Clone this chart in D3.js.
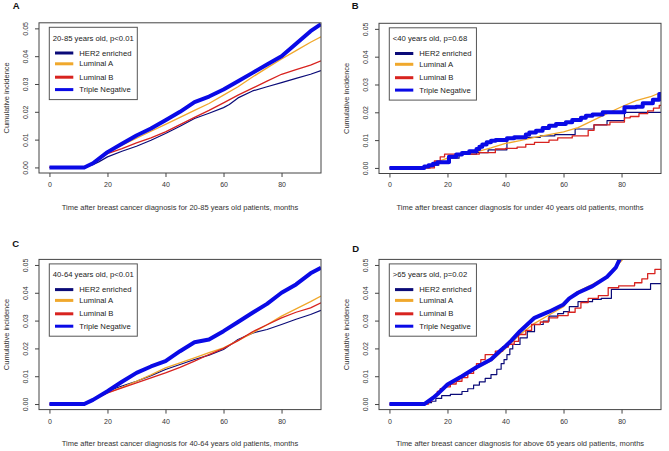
<!DOCTYPE html>
<html><head><meta charset="utf-8">
<script src="https://cdn.jsdelivr.net/npm/d3@7"></script>
<style>html,body{margin:0;padding:0;background:#fff;}svg{display:block;}</style>
</head><body>
<svg id="c" width="669" height="451"></svg>
<script>
const panelLabels = ["A","B","C","D"];
const legendTitles = ["20-85 years old, p<0.01","<40 years old, p=0.68","40-64 years old, p<0.01",">65 years old, p=0.02"];
const xTitles = [
 "Time after breast cancer diagnosis for 20-85 years old patients, months",
 "Time after breast cancer diagnosis for under 40 years old patients, months",
 "Time after breast cancer diagnosis for 40-64 years old patients, months",
 "Time after breast cancer diagnosis for above 65 years old patients, months"];
const yTitle = "Cumulative incidence";
const seriesNames = ["HER2 enriched","Luminal A","Luminal B","Triple Negative"];
const seriesColors = ["#0b0b78","#f0a82c","#d8231f","#0a0ae6"];
const seriesWidths = [1.2,1.3,1.3,4];
const xTicks = [0,20,40,60,80];
const yTicks = [0,0.01,0.02,0.03,0.04,0.05];
const yTickLabels = ["0.00","0.01","0.02","0.03","0.04","0.05"];

// Panel A (20-85)
const A_H2 = [[0,0],[12,0],[15,0.001],[17,0.002],[20,0.0038],[25,0.0058],[30,0.0076],[35,0.0098],[40,0.0122],[45,0.0148],[50,0.0176],[55,0.0195],[60,0.0215],[62,0.0226],[65,0.025],[70,0.0275],[75,0.029],[80,0.0305],[85,0.032],[90,0.0335],[93.6,0.0348]];
const A_LA = [[0,0],[12,0],[15,0.0015],[20,0.0055],[25,0.008],[30,0.0105],[35,0.013],[40,0.0155],[45,0.018],[50,0.0205],[55,0.023],[60,0.026],[65,0.029],[70,0.0325],[75,0.0358],[80,0.039],[85,0.042],[90,0.045],[93.6,0.047]];
const A_LB = [[0,0],[12,0],[15,0.0013],[20,0.005],[25,0.0068],[30,0.0088],[35,0.0106],[40,0.0128],[45,0.0154],[50,0.018],[55,0.0205],[60,0.0232],[65,0.026],[70,0.0285],[75,0.031],[80,0.0335],[85,0.0352],[90,0.0368],[93.6,0.0383]];
const A_TN = [[0,0],[12,0],[15,0.0015],[20,0.0055],[25,0.0085],[30,0.0115],[35,0.014],[40,0.017],[45,0.020],[50,0.0235],[55,0.0255],[60,0.028],[65,0.031],[70,0.034],[75,0.037],[80,0.040],[85,0.0445],[90,0.049],[93.6,0.0515]];
// Panel B (<40)
const B_H2 = [[0,0],[14,0.001],[17,0.002],[21,0.0035],[24,0.005],[30,0.0055],[34,0.0065],[40.5,0.0105],[47,0.011],[52,0.0115],[57,0.012],[64,0.014],[70.5,0.0155],[75,0.017],[81,0.02],[93.6,0.02]];
const B_LA = [[0,0],[14,0],[16,0.002],[20,0.0035],[25,0.0048],[30,0.0058],[35,0.0072],[40,0.0088],[45,0.0098],[50,0.011],[55,0.012],[60,0.013],[65,0.0145],[70,0.017],[75,0.0195],[80,0.022],[85,0.0242],[90,0.0256],[93.6,0.0272]];
const B_LB = [[0,0],[15.5,0.0025],[17.5,0.004],[19,0.005],[31,0.0055],[36.5,0.0068],[40,0.007],[44,0.0075],[47,0.0085],[50,0.0092],[55,0.01],[58,0.0108],[63,0.0115],[68.5,0.0135],[70.5,0.0155],[76,0.0165],[81,0.018],[83,0.0185],[86,0.0195],[89,0.0205],[91,0.0215],[93,0.0225],[93.6,0.0225]];
const B_TN = [[0,0],[12,0.0005],[13.5,0.001],[15,0.0015],[16.5,0.002],[20.5,0.004],[23,0.0048],[25,0.0054],[27.5,0.006],[30,0.0068],[31,0.0076],[32,0.0084],[33.5,0.0092],[35,0.0098],[36.6,0.010],[40.5,0.0107],[43,0.011],[47,0.012],[48.2,0.0127],[50.5,0.0134],[52.8,0.0144],[55,0.0152],[57.4,0.0158],[60.8,0.0164],[63,0.0172],[66,0.018],[67.7,0.0188],[70,0.0192],[73.5,0.02],[81,0.0218],[85,0.022],[87.3,0.0233],[90.8,0.0245],[93,0.0266],[93.6,0.0266]];
// Panel C (40-64)
const C_H2 = [[0,0],[12,0],[15,0.0015],[20,0.0046],[25,0.0065],[30,0.0082],[35,0.0102],[40,0.0124],[45,0.0142],[50,0.016],[55,0.0176],[60,0.0196],[65,0.0232],[70,0.0255],[75,0.0268],[80,0.0286],[85,0.0305],[90,0.0322],[93.6,0.0337]];
const C_LA = [[0,0],[12,0],[15,0.0015],[20,0.004],[25,0.006],[30,0.0082],[35,0.0105],[40,0.013],[45,0.0148],[50,0.0166],[55,0.0185],[60,0.0202],[65,0.0228],[70,0.0256],[75,0.0285],[80,0.0316],[85,0.0342],[90,0.0368],[93.6,0.0388]];
const C_LB = [[0,0],[12,0],[15,0.0015],[20,0.004],[25,0.0058],[30,0.0076],[35,0.0094],[40,0.0112],[45,0.0132],[50,0.0154],[55,0.0178],[60,0.020],[65,0.0228],[70,0.026],[75,0.0285],[80,0.031],[85,0.033],[90,0.0346],[93.6,0.0364]];
const C_TN = [[0,0],[12,0],[15,0.0015],[20,0.0046],[25,0.008],[30,0.0112],[35,0.0135],[40,0.0154],[45,0.019],[50,0.0222],[55,0.0232],[60,0.0262],[65,0.0295],[70,0.0328],[75,0.036],[80,0.040],[85,0.043],[90,0.047],[93.6,0.049]];
// Panel D (>65)
const D_H2 = [[0,0],[13,0.0005],[14.5,0.001],[16,0.002],[18,0.003],[21,0.0035],[25,0.0045],[27,0.0055],[29,0.0068],[31,0.008],[33,0.0092],[35,0.0106],[37,0.0125],[38.5,0.0145],[39.5,0.016],[40.5,0.0178],[41.5,0.0198],[42.5,0.0214],[45,0.0238],[47.5,0.026],[50,0.0286],[53,0.0298],[55,0.0316],[58,0.0325],[60,0.0332],[62,0.035],[65,0.0368],[70,0.0376],[73,0.038],[76.5,0.0412],[90,0.0433],[93.6,0.0433]];
const D_LA = [[0,0],[12.5,0],[15,0.002],[20,0.0065],[25,0.0095],[30,0.013],[35,0.0155],[40,0.020],[45,0.025],[50,0.029],[55,0.032],[60,0.035],[63,0.039],[65,0.0405],[70,0.043],[75,0.046],[80,0.0515],[82,0.054]];
const D_LB = [[0,0],[13.5,0.001],[14.5,0.002],[15.5,0.003],[16.5,0.0045],[17.5,0.0055],[19,0.0062],[21,0.0072],[23,0.0082],[25,0.0095],[27,0.011],[29,0.0125],[30,0.0145],[31.5,0.016],[33,0.0178],[36.5,0.019],[39,0.0205],[41,0.0215],[43,0.0225],[44.5,0.025],[47,0.0265],[49,0.0286],[52,0.0295],[54.8,0.031],[58,0.0318],[61.6,0.033],[64,0.0345],[66,0.0365],[68.5,0.038],[72,0.039],[75.4,0.0418],[79,0.0425],[84.5,0.0436],[87,0.045],[89,0.0469],[91.5,0.0484],[93.6,0.0484]];
const D_TN = [[0,0],[12,0],[15,0.0022],[17,0.004],[20,0.007],[25,0.010],[30,0.0132],[35,0.016],[38,0.019],[40,0.0208],[42,0.0228],[45,0.0262],[50,0.031],[55,0.0332],[60,0.0358],[62,0.038],[65,0.040],[70,0.0424],[75,0.0457],[78,0.049],[80,0.0535]];

const panelSeries = [[A_H2,A_LA,A_LB,A_TN],[B_H2,B_LA,B_LB,B_TN],[C_H2,C_LA,C_LB,C_TN],[D_H2,D_LA,D_LB,D_TN]];
const panelStepped = [[false,false,false,false],[true,false,true,true],[false,false,false,false],[true,false,true,false]];

const layout = [
  {ox:0, oy:0, lx:12.7, ly:9.3},
  {ox:340, oy:0.5, lx:351.7, ly:9.3},
  {ox:0, oy:236.6, lx:12.3, ly:246.7},
  {ox:340, oy:236.6, lx:352.3, ly:252.3}
];
const box = {left:39, right:321, top:22.8, bottom:173};
const FONT = "'Liberation Sans', Arial, sans-serif";
const svg = d3.select("#c");
svg.append("rect").attr("width",669).attr("height",451).attr("fill","#fff");

const x = d3.scaleLinear().domain([-3.6, 93.6]).range([box.left, box.right]);
const y = d3.scaleLinear().domain([-0.002, 0.052]).range([box.bottom, box.top]);

layout.forEach((L, i) => {
  svg.append("text").attr("x", L.lx).attr("y", L.ly).text(panelLabels[i])
    .attr("font-family", FONT).attr("font-weight","bold").attr("font-size", 9.5).attr("fill","#111");
  const g = svg.append("g").attr("transform", `translate(${L.ox},${L.oy})`);
  const cid = "clip" + i;
  g.append("clipPath").attr("id", cid).append("rect")
    .attr("x", box.left).attr("y", box.top).attr("width", box.right - box.left).attr("height", box.bottom - box.top);

  const lines = g.append("g").attr("clip-path", `url(#${cid})`);
  panelSeries[i].forEach((s, k) => {
    const gen = d3.line().x(d => x(d[0])).y(d => y(d[1]))
      .curve(panelStepped[i][k] ? d3.curveStepAfter : d3.curveLinear);
    lines.append("path").attr("d", gen(s)).attr("fill","none")
      .attr("stroke", seriesColors[k]).attr("stroke-width", seriesWidths[k])
      .attr("stroke-linejoin","round");
  });

  g.append("rect").attr("x", box.left).attr("y", box.top)
    .attr("width", box.right - box.left).attr("height", box.bottom - box.top)
    .attr("fill","none").attr("stroke","#444").attr("stroke-width",1);

  // x axis
  const xa = g.append("g").attr("transform", `translate(0,${box.bottom})`)
    .call(d3.axisBottom(x).tickValues(xTicks).tickSize(4).tickPadding(5).tickFormat(d3.format("d")));
  xa.select(".domain").remove();
  xa.selectAll("line").attr("stroke","#444");
  xa.selectAll("text").attr("font-family", FONT).attr("font-size", 7).attr("fill","#333");

  // y axis
  const ya = g.append("g").attr("transform", `translate(${box.left},0)`)
    .call(d3.axisLeft(y).tickValues(yTicks).tickSize(4).tickFormat((d, j) => yTickLabels[j]));
  ya.select(".domain").remove();
  ya.selectAll("line").attr("stroke","#444");
  ya.selectAll("text").attr("font-family", FONT).attr("font-size", 7).attr("fill","#333")
    .attr("x", null).attr("dy", null)
    .attr("text-anchor","middle")
    .attr("transform", "translate(-14,0) rotate(-90)")
    .attr("dominant-baseline","central");

  // axis titles
  g.append("text").attr("x", (box.left + box.right)/2).attr("y", box.bottom + 36.5)
    .attr("text-anchor","middle").attr("font-family", FONT).attr("font-size", 7.5).attr("fill","#333")
    .text(xTitles[i]);
  g.append("text").attr("transform", `translate(${box.left - 30.5},${(box.top + box.bottom)/2}) rotate(-90)`)
    .attr("text-anchor","middle").attr("font-family", FONT).attr("font-size", 7.5).attr("fill","#333")
    .text(yTitle);

  // legend
  const lg = g.append("g").attr("transform", `translate(${box.left + 10.3},${box.top + 4.5})`);
  const lrect = lg.append("rect").attr("x",0).attr("y",0).attr("height",72.3)
    .attr("fill","#fff").attr("stroke","#555").attr("stroke-width",1);
  const title = lg.append("text").attr("x",3.5).attr("y",13.5).text(legendTitles[i])
    .attr("font-family", FONT).attr("font-size", 7.7).attr("fill","#222");
  const rowY = [25.7, 36.5, 49.9, 62.3];
  let maxW = title.node().getComputedTextLength() + 7;
  seriesNames.forEach((nm, k) => {
    lg.append("line").attr("x1",5.7).attr("x2",24).attr("y1",rowY[k]).attr("y2",rowY[k])
      .attr("stroke", seriesColors[k]).attr("stroke-width", 3);
    const t = lg.append("text").attr("x",30).attr("y",rowY[k]).attr("dy","0.35em").text(nm)
      .attr("font-family", FONT).attr("font-size", 7.7).attr("fill","#222");
    maxW = Math.max(maxW, 30 + t.node().getComputedTextLength() + 5);
  });
  lrect.attr("width", maxW);
});
</script>
</body></html>
